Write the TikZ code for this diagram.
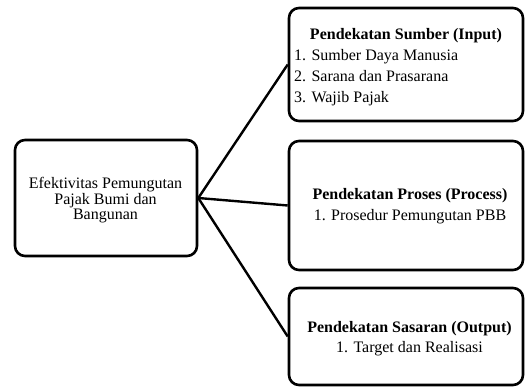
\documentclass[tikz,border=0pt]{standalone}
\usepackage{fontspec}
\setmainfont{Liberation Serif}
\begin{document}
\begin{tikzpicture}[x=1pt,y=-1pt,
  box/.style={draw=black,line width=2.6pt,rounded corners=10pt,inner sep=0pt},
  conn/.style={draw=black,line width=2.4pt},
  txt/.style={inner sep=0pt,anchor=base,font=\fontsize{16}{16}\selectfont},
  ltxt/.style={inner sep=0pt,anchor=base west,font=\fontsize{16}{16}\selectfont}]
\useasboundingbox (0,0) rectangle (525,387);
% boxes
\node[box,minimum width=182pt,minimum height=116pt] (main) at (106,198) {};
\node[box,minimum width=234pt,minimum height=113pt] (input) at (406,64.5) {};
\node[box,minimum width=234pt,minimum height=129pt] (proc) at (406,205.5) {};
\node[box,minimum width=234pt,minimum height=97pt] (out) at (406,336.5) {};
% connectors
\coordinate (hub) at (main.east);
\draw[conn] (hub) -- (input.west);
\draw[conn] (hub) -- (proc.west);
\draw[conn] (hub) -- (out.west);
% left text
\node[txt] (m1) at (105.5,189) {Efektivitas Pemungutan};
\node[txt] (m2) at (105.5,204.5) {Pajak Bumi dan};
\node[txt] (m3) at (105.5,220) {Bangunan};
% input text
\node[txt] (i0) at (406,39.5) {\bfseries Pendekatan Sumber (Input)};
\node[ltxt] (i1) at (294,60.5) {1. Sumber Daya Manusia};
\node[ltxt] (i2) at (294,82) {2. Sarana dan Prasarana};
\node[ltxt] (i3) at (294,103) {3. Wajib Pajak};
% process text
\node[txt] (p0) at (410,200) {\bfseries Pendekatan Proses (Process)};
\node[txt] (p1) at (410,220.5) {1. Prosedur Pemungutan PBB};
% output text
\node[txt] (o0) at (409.5,333) {\bfseries Pendekatan Sasaran (Output)};
\node[txt] (o1) at (409.5,353) {1. Target dan Realisasi};
\end{tikzpicture}
\end{document}
